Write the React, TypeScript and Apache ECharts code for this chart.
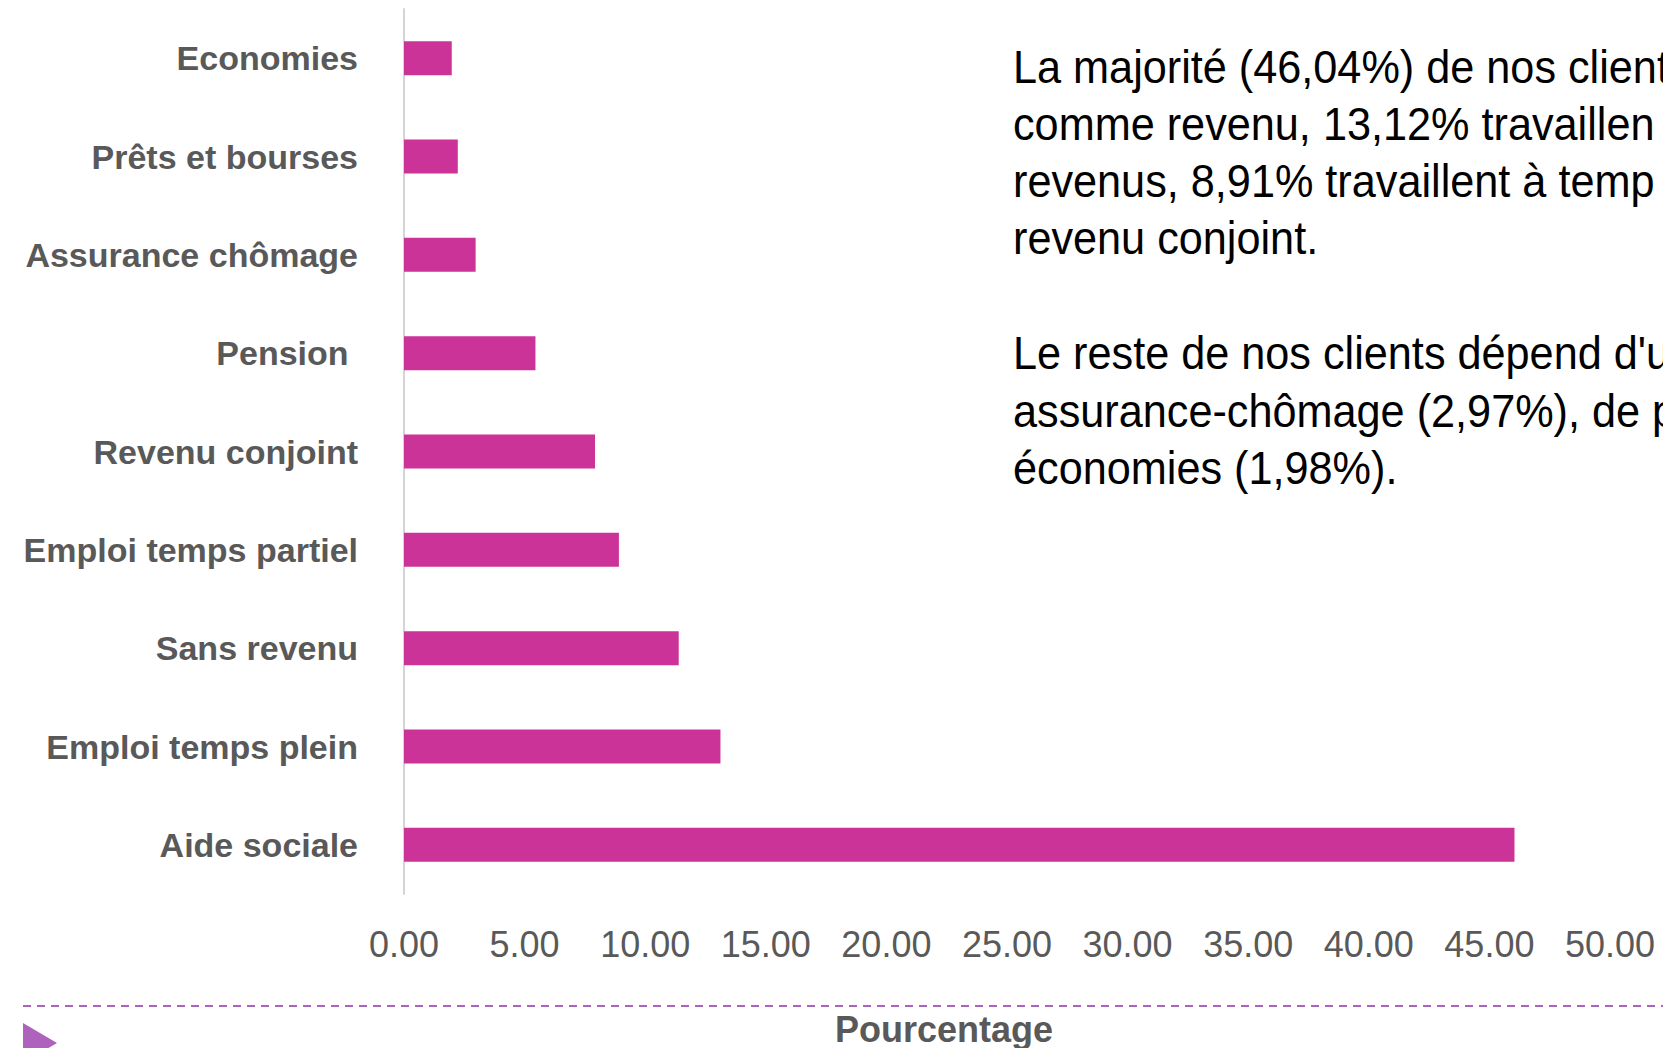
import React, { useEffect, useRef } from "react";
import * as echarts from "echarts";

const categories = [
  "Economies",
  "Prêts et bourses",
  "Assurance chômage",
  "Pension ",
  "Revenu conjoint",
  "Emploi temps partiel",
  "Sans revenu",
  "Emploi temps plein",
  "Aide sociale",
];
const values = [1.98, 2.23, 2.97, 5.45, 7.92, 8.91, 11.39, 13.12, 46.04];
const paragraphLines = [
  "La majorité (46,04%) de nos client",
  "comme revenu, 13,12% travaillen",
  "revenus, 8,91% travaillent à temp",
  "revenu conjoint.",
  "Le reste de nos clients dépend d'u",
  "assurance-chômage (2,97%), de p",
  "économies (1,98%).",
];
const paragraphY = [67, 124, 181, 238, 353, 411, 468];
const axisName = "Pourcentage";

const FONT = "'Liberation Sans', Arial, sans-serif";
const GRAY = "#595959";
const PURPLE = "#AD62BD";

export default function App() {
  const ref = useRef<HTMLDivElement>(null);
  useEffect(() => {
    if (!ref.current) return;
    const chart = echarts.init(ref.current, null, { renderer: "svg" });
    chart.setOption({
      animation: false,
      backgroundColor: "#ffffff",
      grid: {
        left: 404,
        right: 53,
        top: 9,
        bottom: 154,
        containLabel: false,
        outerBoundsMode: "none",
      },
      xAxis: {
        type: "value",
        min: 0,
        max: 50,
        interval: 5,
        axisLine: { show: false },
        axisTick: { show: false },
        splitLine: { show: false },
        axisLabel: {
          formatter: (v: number) => v.toFixed(2),
          color: GRAY,
          fontFamily: FONT,
          fontSize: 36,
          margin: 32,
        },
      },
      yAxis: {
        type: "category",
        inverse: true,
        data: categories,
        axisLine: { show: true, lineStyle: { color: "#D4D4D4", width: 2 } },
        axisTick: { show: false },
        axisLabel: {
          color: GRAY,
          fontFamily: FONT,
          fontWeight: "bold",
          fontSize: 34,
          margin: 46,
        },
      },
      series: [
        {
          type: "bar",
          data: values,
          barWidth: 34,
          itemStyle: { color: "#CC3399" },
        },
      ],
      graphic: [
        ...paragraphLines.map((t, i) => ({
          type: "text",
          x: 1013,
          y: paragraphY[i],
          scaleX: 0.94,
          style: {
            text: t,
            fill: "#000000",
            font: `46px ${FONT}`,
            verticalAlign: "middle",
          },
        })),
        {
          type: "text",
          x: 944,
          y: 1029,
          style: {
            text: axisName,
            fill: GRAY,
            font: `bold 36px ${FONT}`,
            align: "center",
            verticalAlign: "middle",
          },
        },
        {
          type: "line",
          shape: { x1: 23, y1: 1006, x2: 1663, y2: 1006 },
          style: { stroke: PURPLE, lineWidth: 2, lineDash: [8, 6] },
        },
        {
          type: "polygon",
          shape: { points: [[23, 1023], [57, 1043], [23, 1063]] },
          style: { fill: PURPLE },
        },
      ],
    });
    return () => chart.dispose();
  }, []);
  return (
    <div
      ref={ref}
      style={{ position: "absolute", left: 0, top: 0, width: 1663, height: 1048, overflow: "hidden" }}
    />
  );
}
